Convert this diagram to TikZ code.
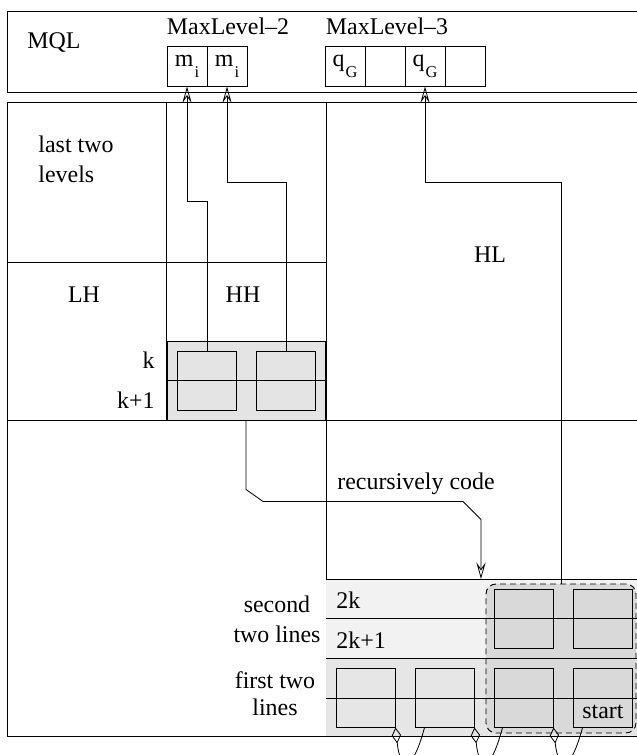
\documentclass[tikz,border=0pt]{standalone}
\usepackage{fontspec}
\setmainfont{Liberation Serif}
\usetikzlibrary{arrows.meta,positioning,calc}
\definecolor{rowlight}{RGB}{242,242,242}
\definecolor{rowmid}{RGB}{230,230,230}
\definecolor{blockgray}{RGB}{228,228,228}
\definecolor{quadgray}{RGB}{217,217,217}
\tikzset{
  cell/.style    ={rectangle, draw, minimum width=12mm, minimum height=12mm, inner sep=0pt},
  sq/.style      ={rectangle, draw, minimum width=17.7mm, minimum height=17.7mm, inner sep=0pt},
  lbl/.style     ={inner sep=0pt, anchor=base},
  flow/.style    ={-{Stealth[open, length=5mm, width=2.8mm, inset=2mm]}, line width=0.7pt},
  tailflow/.style={{Diamond[open, length=4.8mm, width=2.8mm]}-, line width=0.7pt},
  quadbox/.style ={rectangle, rounded corners=3mm, draw, dash pattern=on 1.8mm off 1.2mm,
                   fill=quadgray, inner sep=0pt}
}
\newcommand\lowsub[1]{\kern1pt\raisebox{-0.45em}{\fontsize{14}{16}\selectfont #1}}

\begin{document}
\begin{tikzpicture}[x=0.3mm, y=-0.3mm, line width=0.8pt, font=\fontsize{20.4}{25.6}\selectfont]
\useasboundingbox (0,0) rectangle (636,755);
% top queue
\draw (7,11) rectangle (660,92);
\node[lbl] (mql) at (54,49) {MQL};
\node[lbl] (ml2) at (228,35) {MaxLevel--2};
\node[lbl] (ml3) at (387,35) {MaxLevel--3};
\node[cell] (mi1) at (187,66) {m\lowsub{i}};
\node[cell] (mi2) at (227,66) {m\lowsub{i}};
\foreach \i/\x/\t in {1/345/{q\lowsub{G}}, 2/385/{}, 3/425/{q\lowsub{G}}, 4/465/{}}
  \node[cell] (qg\i) at (\x,66) {\t};
% subbands
\draw (7,102) rectangle (660,736);
\draw (166,102) -- (166,420);
\draw (326,102) -- (326,736);
\draw (7,262) -- (326,262);
\draw (7,420) -- (660,420);
\node[lbl, anchor=base west, align=left] (last) at (38,182) {last two\\levels};
\node[lbl] (lh) at (84,302) {LH};
\node[lbl] (hh) at (243,302) {HH};
\node[lbl] (hl) at (490,262) {HL};
% k, k+1 lines
\node[draw, fill=blockgray, minimum width=47.4mm, minimum height=23.7mm, inner sep=0pt] (kblk) at (246,380.5) {};
\node[sq] (ksq1) at (207,380.5) {};
\node[sq] (ksq2) at (286,380.5) {};
\draw (kblk.west) -- (kblk.east);
\node[lbl, anchor=base east] (k) at (155,368) {k};
\node[lbl, anchor=base east] (k1) at (155,408) {k+1};
% lower part
\fill[rowlight] (326,579) rectangle (660,658);
\fill[rowmid] (326,658) rectangle (660,736);
\node[quadbox, minimum width=45mm, minimum height=44.7mm] (quad) at (561,658.5) {};
\foreach \y in {579,618,658,698}
  \draw (326,\y) -- (660,\y);
\foreach \i/\x in {1/365.5, 2/444.5, 3/523.5, 4/602.5}
  \node[sq] (fsq\i) at (\x,697.5) {};
\node[sq] (ssq3) at (523.5,618.5) {};
\node[sq] (ssq4) at (602.5,618.5) {};
\coordinate (rcin) at (481,579);
\node[lbl, anchor=base west] (r2k) at (336,608) {2k};
\node[lbl, anchor=base west] (r2k1) at (336,648) {2k+1};
\node[lbl] (start) at (603,718) {start};
\node[lbl, align=center, font=\fontsize{20.4}{25}\selectfont] (second) at (277,642) {second\\two lines};
\node[lbl, align=center, font=\fontsize{20.4}{23}\selectfont] (first) at (275,715) {first two\\lines};
% arrows
\draw[flow] (ksq1.north) -- ++(0,-149) -| (mi1.south);
\draw[flow] (ksq2.north) -- ++(0,-168) -| (mi2.south);
\draw[flow] (quad.north) -- ++(0,-401) -| (qg3.south);
\draw[flow] (kblk.south) -- ++(0,69) -- ++(17,12) -- ++(200,0) -- ++(18,18) -- (rcin);
\node[lbl] (rec) at (416,489) {recursively code};
\draw[tailflow] (fsq1.south east) .. controls +(5,45) and +(-12,45) .. ([xshift=3mm]fsq2.south west);
\draw[tailflow] (fsq2.south east) .. controls +(5,45) and +(-12,45) .. ([xshift=2.7mm]fsq3.south west);
\draw[tailflow] (fsq3.south east) .. controls +(5,45) and +(-12,45) .. ([xshift=3mm]fsq4.south west);
\end{tikzpicture}
\end{document}
